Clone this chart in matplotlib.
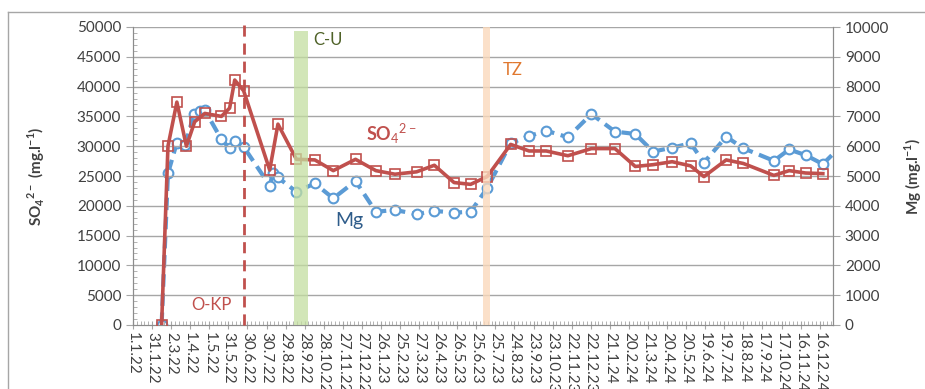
import matplotlib
matplotlib.use("Agg")
import matplotlib.pyplot as plt
import matplotlib.dates as mdates
from matplotlib.lines import Line2D
from matplotlib.ticker import MultipleLocator, FixedLocator, FuncFormatter
import numpy as np
import pandas as pd

plt.rcParams['font.family'] = ['Lato', 'DejaVu Sans']
plt.rcParams['mathtext.fontset'] = 'custom'
plt.rcParams['mathtext.rm'] = 'Lato'
plt.rcParams['mathtext.bf'] = 'Lato:bold'

# --- datos ---
so4_fechas = ['2022-02-15', '2022-02-25', '2022-03-11', '2022-03-26', '2022-04-08',
              '2022-04-24', '2022-05-20', '2022-06-02', '2022-06-10', '2022-06-24',
              '2022-08-04', '2022-08-17', '2022-09-15', '2022-10-14', '2022-11-12',
              '2022-12-17', '2023-01-18', '2023-02-17', '2023-03-23', '2023-04-20',
              '2023-05-21', '2023-06-16', '2023-07-12', '2023-08-18', '2023-09-16',
              '2023-10-13', '2023-11-16', '2023-12-23', '2024-01-29', '2024-03-01',
              '2024-03-29', '2024-04-28', '2024-05-27', '2024-06-17', '2024-07-22',
              '2024-08-18', '2024-10-05', '2024-10-29', '2024-11-24', '2024-12-21']
so4_valores = [0, 30000, 37400, 30000, 34100,
               35500, 35000, 36400, 41100, 39300,
               26000, 33700, 27800, 27700, 25900,
               27800, 25900, 25300, 25700, 26800,
               23900, 23600, 24900, 30300, 29200,
               29200, 28400, 29600, 29600, 26600,
               26900, 27400, 26700, 24900, 27700,
               27100, 25100, 25900, 25500, 25400]

mg_fechas = ['2022-02-15', '2022-02-25', '2022-03-11', '2022-03-24', '2022-04-07',
             '2022-04-16', '2022-04-24', '2022-05-20', '2022-06-02', '2022-06-10',
             '2022-06-24', '2022-08-04', '2022-08-09', '2022-08-17', '2022-09-15',
             '2022-10-14', '2022-11-12', '2022-12-17', '2023-01-18', '2023-02-17',
             '2023-03-23', '2023-04-20', '2023-05-21', '2023-06-16', '2023-07-12',
             '2023-08-18', '2023-09-16', '2023-10-13', '2023-11-16', '2023-12-23',
             '2024-01-29', '2024-03-01', '2024-03-29', '2024-04-28', '2024-05-27',
             '2024-06-17', '2024-07-22', '2024-08-18', '2024-10-05', '2024-10-29',
             '2024-11-24', '2024-12-21', '2025-01-09']
mg_valores = [0, 5090, 6120, 6040, 7080,
              7190, 7210, 6230, 5930, 6190,
              5980, 4680, 5090, 4950, 4470,
              4750, 4250, 4830, 3800, 3860,
              3720, 3830, 3770, 3800, 4590,
              6100, 6340, 6520, 6300, 7080,
              6490, 6410, 5820, 5950, 6100,
              5450, 6320, 5930, 5510, 5890,
              5700, 5400, 5800]

# eventos
fecha_okp = '2022-06-24'
banda_cu = ('2022-09-11', '2022-10-03')
banda_tz = ('2023-07-06', '2023-07-17')

so4_x = pd.to_datetime(so4_fechas)
mg_x = pd.to_datetime(mg_fechas)

rojo = '#c0504d'
azul = '#5b9bd5'
gris = '#a6a6a6'

fig = plt.figure(figsize=(9.25, 3.89), dpi=100)
ax = fig.add_axes([133 / 925, 1 - 325 / 389, 700 / 925, 298 / 389])
ax2 = ax.twinx()

# marco exterior (solo arriba e izquierda visibles)
fig.add_artist(Line2D([8 / 925, 1], [1 - 12 / 389, 1 - 12 / 389], color=gris, lw=1))
fig.add_artist(Line2D([8 / 925, 8 / 925], [0, 1 - 12 / 389], color=gris, lw=1))

# cuadricula
for v in np.arange(5000, 50001, 5000):
    ax.axhline(v, color=gris, lw=1, zorder=0)

# lineas de datos
ax2.plot(mg_x[:-1], mg_valores[:-1], color=azul, lw=3, ls=(0, (3, 1.6)), marker='o', ms=7,
         mfc='white', mec=azul, mew=1.5, zorder=3)
# ultimo tramo sale un poco del area del grafico
ax2.plot(mg_x[-2:], mg_valores[-2:], color=azul, lw=3, ls=(0, (3, 1.6)),
         zorder=2, clip_on=False)
ax.plot(so4_x, so4_valores, color=rojo, lw=2.6, marker='s', ms=7,
        mfc='none', mec=rojo, mew=1.2, zorder=4)
ax.set_zorder(ax2.get_zorder() + 1)
ax.patch.set_visible(False)

# bandas y linea vertical
ax.axvspan(pd.Timestamp(banda_cu[0]), pd.Timestamp(banda_cu[1]), ymax=0.985,
           color='#c3dea0', alpha=0.75, lw=0, zorder=5)
ax.axvspan(pd.Timestamp(banda_tz[0]), pd.Timestamp(banda_tz[1]),
           color='#fad9bc', alpha=0.8, lw=0, zorder=5)
ax.axvline(pd.Timestamp(fecha_okp), ymin=0, ymax=1.02, color=rojo, lw=2,
           ls=(0, (4, 2.5)), zorder=5, clip_on=False)

# textos
ax.text(pd.Timestamp('2022-05-05'), 3300, 'O-KP', color=rojo, fontsize=12,
        ha='center', va='center', zorder=6)
ax.text(pd.Timestamp('2022-10-11'), 47800, 'C-U', color='#4f6228', fontsize=12,
        ha='left', va='center', zorder=6)
ax.text(pd.Timestamp('2023-08-06'), 42800, 'TZ', color='#e0782f', fontsize=12,
        ha='left', va='center', zorder=6)
ax.text(pd.Timestamp('2023-01-02'), 32200, r'SO$_4$$^{2-}$', color=rojo, fontsize=13,
        fontweight='bold', ha='left', va='center', zorder=6)
ax.text(pd.Timestamp('2022-11-15'), 17600, 'Mg', color='#2e5c8a', fontsize=14,
        ha='left', va='center', zorder=6)

# eje x con fechas cada 30 dias
inicio = pd.Timestamp('2022-01-01')
ticks = [inicio + pd.Timedelta(days=30 * k) for k in range(37)]
ax.set_xlim(inicio, pd.Timestamp('2025-01-06'))
ax.xaxis.set_major_locator(FixedLocator(mdates.date2num(ticks)))
ax.xaxis.set_minor_locator(FixedLocator(
    mdates.date2num([inicio + pd.Timedelta(days=6 * k) for k in range(184)])))
ax.xaxis.set_major_formatter(FuncFormatter(
    lambda v, p: (lambda d: f"{d.day}.{d.month}.{d.strftime('%y')}")(mdates.num2date(v))))
ax.tick_params(axis='x', which='major', direction='inout', length=6, color=gris,
               labelrotation=270, labelsize=11, labelcolor='#404040', pad=2)
ax.tick_params(axis='x', which='minor', direction='in', length=3, color=gris)

# eje y izquierdo
ax.set_ylim(0, 50000)
ax.yaxis.set_major_locator(MultipleLocator(5000))
ax.yaxis.set_minor_locator(MultipleLocator(1000))
ax.tick_params(axis='y', which='major', direction='out', length=5, color=gris,
               labelsize=11, labelcolor='#404040')
ax.tick_params(axis='y', which='minor', direction='in', length=3, color=gris)
ax.set_ylabel(r'SO$_\mathbf{4}$$^\mathbf{2-}$ (mg.l$^\mathbf{-1}$)', fontsize=11,
              fontweight='bold', color='#404040')
ax.yaxis.set_label_coords(-86 / 700, 0.5)

# eje y derecho
ax2.set_ylim(0, 10000)
ax2.yaxis.set_major_locator(MultipleLocator(1000))
ax2.tick_params(axis='y', direction='out', length=5, color=gris,
                labelsize=11, labelcolor='#404040')
ax2.set_ylabel(r'Mg (mg.l$^\mathbf{-1}$)', fontsize=11, fontweight='bold',
               color='#404040', rotation=90, va='center')
ax2.yaxis.set_label_coords(1 + 80 / 700, 0.5)

for a in (ax, ax2):
    a.spines['top'].set_visible(False)
    for s in ('left', 'right', 'bottom'):
        a.spines[s].set_color('#8c8c8c')

fig.savefig('out.png', dpi=100)
